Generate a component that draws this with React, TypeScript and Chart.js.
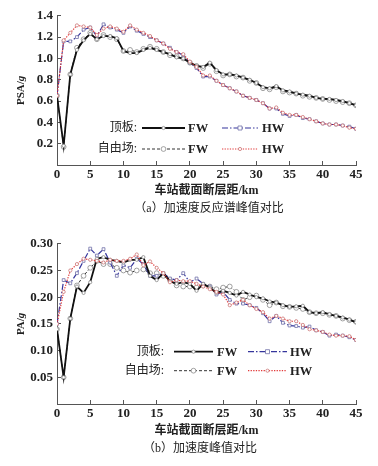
import React, { useEffect, useRef } from 'react';
import { Chart, registerables } from 'chart.js';

Chart.register(...registerables);

// ---------- data ----------
const DIST_KM = [0, 1, 2, 3, 4, 5, 6, 7, 8, 9, 10, 11, 12, 13, 14, 15, 16, 17, 18, 19, 20, 21, 22, 23, 24, 25, 26, 27, 28, 29, 30, 31, 32, 33, 34, 35, 36, 37, 38, 39, 40, 41, 42, 43, 44, 45];

const PSA_ROOF_FW = [0.65, 0.18, 0.85, 1.08, 1.17, 1.23, 1.18, 1.21, 1.21, 1.19, 1.07, 1.05, 1.05, 1.08, 1.10, 1.08, 1.06, 1.04, 1.01, 1.00, 0.96, 0.93, 0.92, 0.96, 0.89, 0.85, 0.85, 0.84, 0.82, 0.80, 0.77, 0.73, 0.72, 0.74, 0.70, 0.69, 0.67, 0.66, 0.65, 0.63, 0.62, 0.62, 0.61, 0.60, 0.58, 0.56];
const PSA_ROOF_HW = [0.65, 1.16, 1.16, 1.20, 1.27, 1.29, 1.21, 1.32, 1.29, 1.27, 1.24, 1.30, 1.26, 1.23, 1.20, 1.17, 1.14, 1.10, 1.06, 1.03, 0.96, 0.91, 0.83, 0.83, 0.79, 0.75, 0.72, 0.69, 0.65, 0.63, 0.61, 0.58, 0.53, 0.53, 0.48, 0.46, 0.47, 0.44, 0.43, 0.41, 0.39, 0.38, 0.38, 0.37, 0.36, 0.34];
const PSA_FREE_FW = [0.65, 0.17, 0.85, 1.10, 1.18, 1.24, 1.18, 1.22, 1.20, 1.18, 1.07, 1.08, 1.06, 1.09, 1.11, 1.09, 1.06, 1.03, 1.02, 1.00, 0.96, 0.93, 0.91, 0.95, 0.88, 0.84, 0.85, 0.83, 0.82, 0.79, 0.77, 0.72, 0.71, 0.73, 0.69, 0.68, 0.67, 0.65, 0.64, 0.63, 0.62, 0.61, 0.60, 0.59, 0.58, 0.56];
const PSA_FREE_HW = [0.65, 1.17, 1.24, 1.31, 1.30, 1.29, 1.22, 1.28, 1.30, 1.28, 1.25, 1.31, 1.27, 1.24, 1.21, 1.17, 1.14, 1.09, 1.06, 1.04, 0.97, 0.92, 0.84, 0.84, 0.79, 0.75, 0.72, 0.69, 0.65, 0.63, 0.61, 0.58, 0.53, 0.54, 0.49, 0.47, 0.47, 0.45, 0.43, 0.41, 0.39, 0.38, 0.38, 0.37, 0.35, 0.34];

const PA_ROOF_FW = [0.14, 0.05, 0.16, 0.22, 0.208, 0.228, 0.272, 0.275, 0.27, 0.268, 0.265, 0.27, 0.27, 0.275, 0.24, 0.232, 0.245, 0.23, 0.225, 0.228, 0.225, 0.212, 0.225, 0.218, 0.208, 0.212, 0.208, 0.203, 0.21, 0.205, 0.2, 0.198, 0.192, 0.19, 0.185, 0.182, 0.183, 0.184, 0.172, 0.17, 0.172, 0.168, 0.165, 0.162, 0.158, 0.153];
const PA_ROOF_HW = [0.15, 0.232, 0.226, 0.245, 0.268, 0.291, 0.278, 0.29, 0.265, 0.24, 0.26, 0.255, 0.272, 0.262, 0.24, 0.24, 0.245, 0.235, 0.232, 0.245, 0.228, 0.235, 0.225, 0.22, 0.205, 0.21, 0.195, 0.188, 0.188, 0.185, 0.18, 0.17, 0.155, 0.165, 0.152, 0.147, 0.146, 0.143, 0.145, 0.138, 0.135, 0.128, 0.13, 0.128, 0.125, 0.12];
const PA_FREE_FW = [0.14, 0.05, 0.16, 0.222, 0.24, 0.255, 0.268, 0.262, 0.262, 0.255, 0.25, 0.246, 0.25, 0.252, 0.245, 0.245, 0.24, 0.232, 0.222, 0.22, 0.22, 0.218, 0.222, 0.22, 0.215, 0.218, 0.22, 0.21, 0.195, 0.2, 0.203, 0.195, 0.185, 0.19, 0.183, 0.182, 0.18, 0.178, 0.172, 0.17, 0.17, 0.167, 0.165, 0.16, 0.157, 0.154];
const PA_FREE_HW = [0.15, 0.21, 0.25, 0.262, 0.272, 0.27, 0.268, 0.265, 0.27, 0.268, 0.268, 0.272, 0.28, 0.26, 0.267, 0.255, 0.245, 0.228, 0.232, 0.23, 0.23, 0.225, 0.22, 0.215, 0.21, 0.205, 0.185, 0.19, 0.195, 0.185, 0.178, 0.172, 0.16, 0.165, 0.16, 0.155, 0.155, 0.148, 0.14, 0.138, 0.135, 0.13, 0.128, 0.128, 0.127, 0.12];

const ROW_LABELS = ['顶板:', '自由场:'];
const SERIES_LABELS = ['FW', 'HW'];
const X_TITLE = '车站截面断层距/km';
const CAPTION_A = '（a）加速度反应谱峰值对比';
const CAPTION_B = '（b）加速度峰值对比';

// ---------- styles ----------
const SERIF = '"Liberation Serif", "Times New Roman", serif';
const CJK = '"Liberation Serif", "Noto Sans CJK SC", serif';

// index: 0 roof FW, 1 roof HW, 2 free FW, 3 free HW
const STYLES = [
  { color: '#111111', width: 1.8, dash: [] as number[], point: 'circle', pr: 1.6, pc: '#8a8a8a', order: 1 },
  { color: '#35359c', width: 1.2, dash: [6, 2, 1.5, 2], point: 'rect', pr: 2, pc: '#7070a8', order: 2 },
  { color: '#333333', width: 1, dash: [3, 2], point: 'circle', pr: 2.4, pc: '#8a8a8a', order: 3 },
  { color: '#e23a3a', width: 1.2, dash: [1.3, 1.3], point: 'circle', pr: 1.6, pc: '#cc7777', order: 0 },
];

function drawMarker(ctx: CanvasRenderingContext2D, kind: string, x: number, y: number, r: number, c: string) {
  ctx.save();
  ctx.setLineDash([]);
  ctx.fillStyle = '#fff';
  ctx.strokeStyle = c;
  ctx.lineWidth = 0.8;
  ctx.beginPath();
  if (kind === 'rect') ctx.rect(x - r, y - r, 2 * r, 2 * r);
  else ctx.arc(x, y, r, 0, Math.PI * 2);
  ctx.fill();
  ctx.stroke();
  ctx.restore();
}

function makeOverlay(cfg: any) {
  return {
    id: 'overlay',
    afterDraw(chart: any) {
      const ctx: CanvasRenderingContext2D = chart.ctx;
      const area = chart.chartArea;
      ctx.save();
      // y-axis title with italic g
      const up = cfg.yTitle[0];
      const it = cfg.yTitle[1];
      ctx.font = `bold 11px ${SERIF}`;
      const w1 = ctx.measureText(up).width;
      ctx.font = `italic bold 11px ${SERIF}`;
      const w2 = ctx.measureText(it).width;
      ctx.translate(cfg.yTitleX, (area.top + area.bottom) / 2);
      ctx.rotate(-Math.PI / 2);
      ctx.fillStyle = '#222';
      ctx.textBaseline = 'middle';
      ctx.textAlign = 'left';
      ctx.font = `bold 11px ${SERIF}`;
      ctx.fillText(up, -(w1 + w2) / 2, 0);
      ctx.font = `italic bold 11px ${SERIF}`;
      ctx.fillText(it, -(w1 + w2) / 2 + w1, 0);
      ctx.restore();

      // legend
      ctx.save();
      ctx.textBaseline = 'middle';
      for (let row = 0; row < 2; row++) {
        const y = cfg.rowY[row];
        ctx.fillStyle = '#222';
        ctx.textAlign = 'right';
        ctx.font = `12px ${CJK}`;
        ctx.fillText(ROW_LABELS[row], cfg.labelRight, y);
        for (let col = 0; col < 2; col++) {
          const st = STYLES[row * 2 + col];
          const [x0, x1] = col === 0 ? cfg.fwLine : cfg.hwLine;
          ctx.save();
          ctx.strokeStyle = st.color;
          ctx.lineWidth = st.width;
          ctx.setLineDash(st.dash);
          ctx.beginPath();
          ctx.moveTo(x0, y);
          ctx.lineTo(x1, y);
          ctx.stroke();
          ctx.restore();
          drawMarker(ctx, st.point, (x0 + x1) / 2, y, st.pr, st.pc);
          ctx.fillStyle = '#222';
          ctx.textAlign = 'left';
          ctx.font = `bold 12.5px ${SERIF}`;
          ctx.fillText(SERIES_LABELS[col], col === 0 ? cfg.fwText : cfg.hwText, y + 1);
        }
      }
      // caption
      ctx.textAlign = 'center';
      ctx.font = `12px ${CJK}`;
      ctx.fillStyle = '#222';
      ctx.fillText(cfg.caption, cfg.captionX, cfg.captionY);
      ctx.restore();
    },
  };
}

function Panel(props: any) {
  const ref = useRef<HTMLCanvasElement | null>(null);
  useEffect(() => {
    const canvas = ref.current;
    if (!canvas) return;
    const p = props;
    const chart = new Chart(canvas, {
      type: 'line',
      data: {
        datasets: p.series.map((vals: number[], i: number) => {
          const st = STYLES[i];
          return {
            data: DIST_KM.map((d, j) => ({ x: d, y: vals[j] })),
            borderColor: st.color,
            borderWidth: st.width,
            borderDash: st.dash,
            pointStyle: st.point,
            pointRadius: st.pr,
            pointBorderColor: st.pc,
            pointBackgroundColor: '#ffffff',
            pointBorderWidth: 0.8,
            tension: 0,
            fill: false,
            order: st.order,
          };
        }),
      },
      options: {
        responsive: false,
        animation: false,
        devicePixelRatio: 1,
        layout: { padding: { left: 0, right: 22, top: p.areaTop, bottom: 0 } },
        plugins: { legend: { display: false }, tooltip: { enabled: false }, title: { display: false } },
        scales: {
          x: {
            type: 'linear',
            min: 0,
            max: 45,
            border: { color: '#555', width: 1 },
            grid: { drawOnChartArea: false, tickLength: -4, color: '#555' },
            ticks: { stepSize: 5, padding: 6, color: '#222', font: { family: SERIF, size: 13, weight: 'bold' } },
            title: {
              display: true,
              text: X_TITLE,
              color: '#222',
              font: { family: CJK, size: 12, weight: 'bold' },
              padding: { top: 0, bottom: p.xTitlePad },
            },
            afterFit: (s: any) => {
              s.height = p.xHeight;
            },
          },
          y: {
            type: 'linear',
            min: 0,
            max: p.yMax,
            border: { color: '#555', width: 1 },
            grid: { drawOnChartArea: false, tickLength: -4, color: '#555' },
            ticks: {
              stepSize: p.yStep,
              padding: 8,
              color: '#222',
              font: { family: SERIF, size: 13, weight: 'bold' },
              callback: (v: any) => (Math.abs(Number(v)) < 1e-9 ? '' : Number(v).toFixed(p.yDec)),
            },
            afterFit: (s: any) => {
              s.width = 57;
            },
          },
        },
      },
      plugins: [makeOverlay(p.overlay)],
    } as any);
    return () => chart.destroy();
  }, []);
  return (
    <canvas
      ref={ref}
      width={378}
      height={props.height}
      style={{ position: 'absolute', left: 0, top: props.top, width: 378, height: props.height, display: 'block' }}
    />
  );
}

export default function App() {
  return (
    <div style={{ position: 'absolute', left: 0, top: 0, width: 378, height: 466, background: '#fff' }}>
      <Panel
        top={0}
        height={228}
        series={[PSA_ROOF_FW, PSA_ROOF_HW, PSA_FREE_FW, PSA_FREE_HW]}
        yMax={1.4}
        yStep={0.2}
        yDec={1}
        areaTop={12}
        xHeight={63}
        xTitlePad={30}
        overlay={{
          yTitle: ['PSA/', 'g'],
          yTitleX: 21,
          rowY: [128, 149],
          labelRight: 137,
          fwLine: [142, 185],
          fwText: 188,
          hwLine: [222, 258],
          hwText: 262,
          caption: CAPTION_A,
          captionX: 209,
          captionY: 209,
        }}
      />
      <Panel
        top={228}
        height={238}
        series={[PA_ROOF_FW, PA_ROOF_HW, PA_FREE_FW, PA_FREE_HW]}
        yMax={0.3}
        yStep={0.05}
        yDec={2}
        areaTop={8.7}
        xHeight={62}
        xTitlePad={28}
        overlay={{
          yTitle: ['PA/', 'g'],
          yTitleX: 21,
          rowY: [123.7, 142.7],
          labelRight: 164,
          fwLine: [174, 213],
          fwText: 217,
          hwLine: [248, 287],
          hwText: 290,
          caption: CAPTION_B,
          captionX: 200,
          captionY: 221,
        }}
      />
    </div>
  );
}
